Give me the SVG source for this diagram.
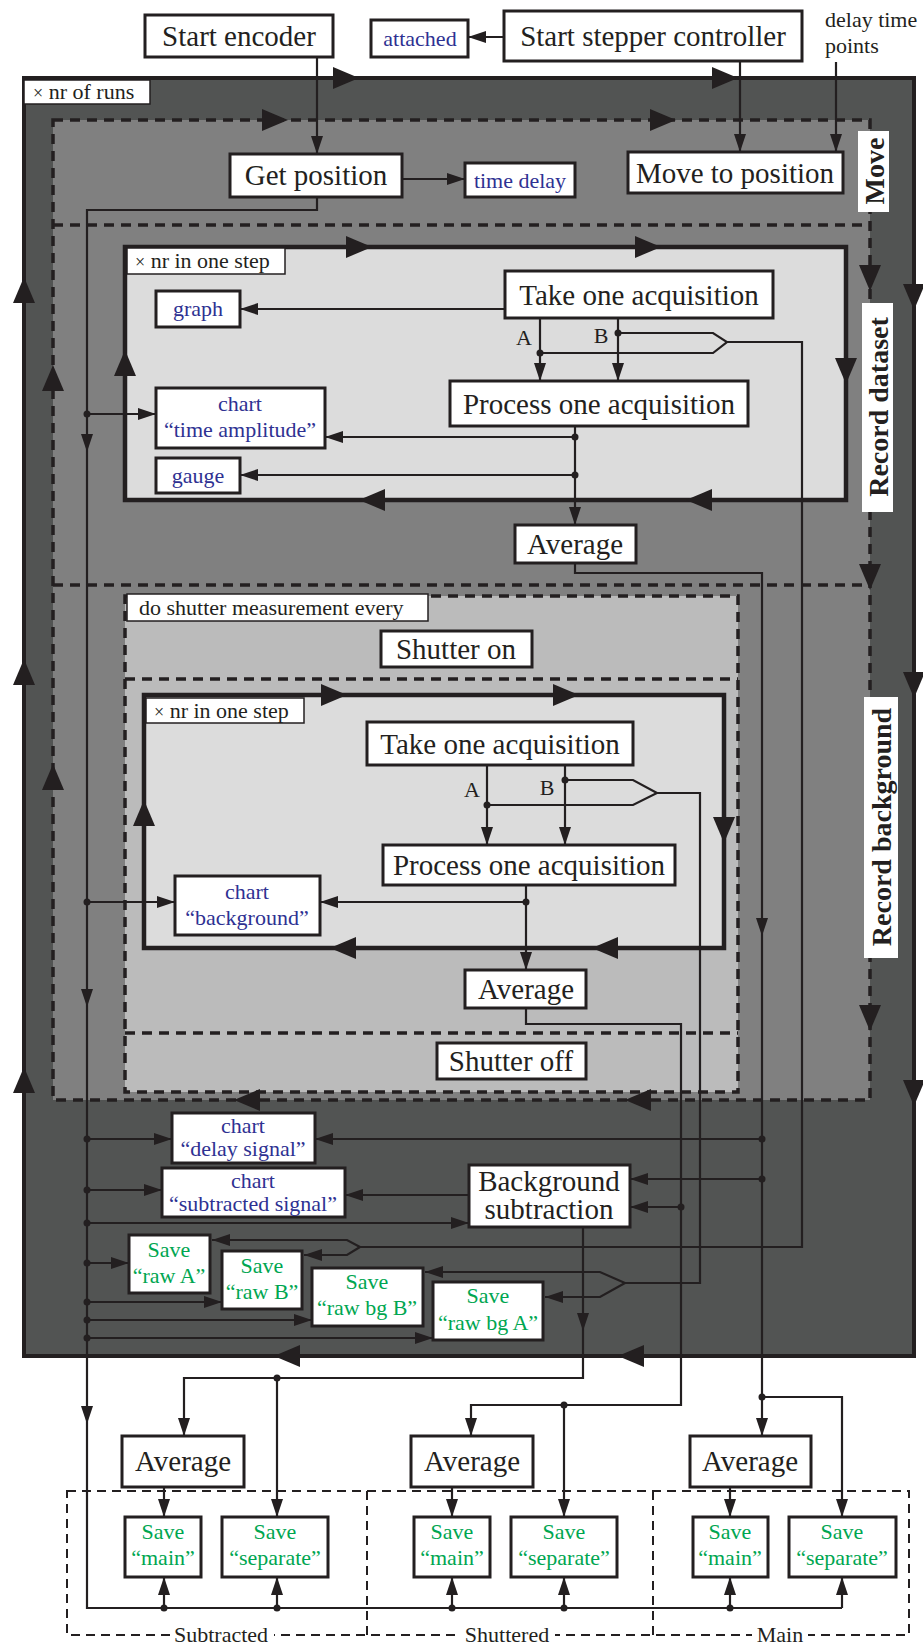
<svg xmlns="http://www.w3.org/2000/svg" xmlns:xlink="http://www.w3.org/1999/xlink" width="923" height="1646" viewBox="0 0 923 1646">
<style>
.box{fill:#fff;stroke:#231f20;stroke-width:3}
.lbl{fill:#fff;stroke:#231f20;stroke-width:1.5}
.t{font-family:"Liberation Serif","Times New Roman",serif;font-size:29px;fill:#231f20;text-anchor:middle}
.s{font-family:"Liberation Serif","Times New Roman",serif;font-size:22px;fill:#231f20}
.b{font-family:"Liberation Serif","Times New Roman",serif;font-size:22px;fill:#2e3192;text-anchor:middle}
.g{font-family:"Liberation Serif","Times New Roman",serif;font-size:22px;fill:#00a651;text-anchor:middle}
.v{font-family:"Liberation Serif","Times New Roman",serif;font-size:28px;font-weight:bold;fill:#231f20;text-anchor:middle;dominant-baseline:central}
.ln{fill:none;stroke:#231f20;stroke-width:2.2}
.ar{marker-end:url(#ah)}
.dash{stroke:#231f20;stroke-width:3.5;stroke-dasharray:10 7}
.thin{fill:none;stroke:#231f20;stroke-width:2;stroke-dasharray:9 6}
.loop{fill:#dcdcdc;stroke:#231f20;stroke-width:4.5}
.dot{fill:#231f20}
</style>
<defs>
<marker id="ah" viewBox="0 0 18 12" refX="18" refY="6" markerWidth="18" markerHeight="12" markerUnits="userSpaceOnUse" orient="auto"><path d="M0,0 L18,6 L0,12 z" fill="#231f20"/></marker>
<path id="big" d="M-13,-11 L13,0 L-13,11 z" fill="#231f20"/>
<path id="sm" d="M-9,-6 L9,0 L-9,6 z" fill="#231f20"/>
</defs>
<rect width="923" height="1646" fill="#fff"/>

<g id="regions">
<rect x="24" y="78" width="890" height="1278" fill="#525453" stroke="#231f20" stroke-width="4"/>
<rect x="53" y="120" width="817" height="980" fill="#808080" class="dash"/>
<line x1="53" y1="225" x2="870" y2="225" class="dash"/>
<line x1="53" y1="585" x2="870" y2="585" class="dash"/>
<rect x="125" y="247" width="721" height="253" class="loop"/>
<rect x="125" y="596" width="613" height="496" fill="#bbbbbb" class="dash"/>
<line x1="125" y1="679" x2="738" y2="679" class="dash"/>
<line x1="125" y1="1033" x2="738" y2="1033" class="dash"/>
<rect x="144" y="695" width="580" height="253" class="loop"/>
<rect x="67" y="1491" width="842" height="144" class="thin"/>
<line x1="367" y1="1491" x2="367" y2="1635" class="thin"/>
<line x1="653" y1="1491" x2="653" y2="1635" class="thin"/>
<rect x="170" y="1624" width="104" height="22" fill="#fff"/>
<rect x="459" y="1624" width="96" height="22" fill="#fff"/>
<rect x="752" y="1624" width="56" height="22" fill="#fff"/>
<text class="s" x="221" y="1642" text-anchor="middle">Subtracted</text>
<text class="s" x="507" y="1642" text-anchor="middle">Shuttered</text>
<text class="s" x="780" y="1642" text-anchor="middle">Main</text>
</g>

<g id="loop-arrows">
<use href="#big" transform="translate(346,78)"/>
<use href="#big" transform="translate(725,78)"/>
<use href="#big" transform="translate(24,290) rotate(-90)"/>
<use href="#big" transform="translate(24,672) rotate(-90)"/>
<use href="#big" transform="translate(24,1080) rotate(-90)"/>
<use href="#big" transform="translate(914,297) rotate(90)"/>
<use href="#big" transform="translate(914,685) rotate(90)"/>
<use href="#big" transform="translate(914,1093) rotate(90)"/>
<use href="#big" transform="translate(287,1356) rotate(180)"/>
<use href="#big" transform="translate(631,1356) rotate(180)"/>
<use href="#big" transform="translate(275,120)"/>
<use href="#big" transform="translate(663,120)"/>
<use href="#big" transform="translate(870,278) rotate(90)"/>
<use href="#big" transform="translate(870,577) rotate(90)"/>
<use href="#big" transform="translate(870,1018) rotate(90)"/>
<use href="#big" transform="translate(53,378) rotate(-90)"/>
<use href="#big" transform="translate(53,777) rotate(-90)"/>
<use href="#big" transform="translate(247,1100) rotate(180)"/>
<use href="#big" transform="translate(638,1100) rotate(180)"/>
<use href="#big" transform="translate(359,247)"/>
<use href="#big" transform="translate(648,247)"/>
<use href="#big" transform="translate(846,371) rotate(90)"/>
<use href="#big" transform="translate(372,500) rotate(180)"/>
<use href="#big" transform="translate(699,500) rotate(180)"/>
<use href="#big" transform="translate(125,363) rotate(-90)"/>
<use href="#big" transform="translate(334,695)"/>
<use href="#big" transform="translate(566,695)"/>
<use href="#big" transform="translate(724,830) rotate(90)"/>
<use href="#big" transform="translate(343,948) rotate(180)"/>
<use href="#big" transform="translate(605,948) rotate(180)"/>
<use href="#big" transform="translate(144,813) rotate(-90)"/>
</g>

<g id="labels">
<rect x="24" y="80" width="126" height="24" class="lbl"/>
<text class="s" x="33" y="99"><tspan font-size="18">×</tspan> nr of runs</text>
<rect x="127" y="248" width="158" height="26" class="lbl"/>
<text class="s" x="135" y="268"><tspan font-size="18">×</tspan> nr in one step</text>
<rect x="127" y="594" width="301" height="27" class="lbl"/>
<text class="s" x="139" y="615">do shutter measurement every</text>
<rect x="146" y="698" width="158" height="25" class="lbl"/>
<text class="s" x="154" y="718"><tspan font-size="18">×</tspan> nr in one step</text>
<rect x="858" y="131" width="31" height="81" fill="#fff"/>
<text class="v" transform="translate(874,171) rotate(-90)">Move</text>
<rect x="862" y="303" width="31" height="209" fill="#fff"/>
<text class="v" transform="translate(878,407) rotate(-90)">Record dataset</text>
<rect x="864" y="697" width="34" height="261" fill="#fff"/>
<text class="v" transform="translate(881,827) rotate(-90)">Record background</text>
<text class="s" x="825" y="27">delay time</text>
<text class="s" x="825" y="53">points</text>
<text class="s" x="524" y="345" text-anchor="middle" font-size="24">A</text>
<text class="s" x="601" y="343" text-anchor="middle" font-size="24">B</text>
<text class="s" x="472" y="797" text-anchor="middle" font-size="24">A</text>
<text class="s" x="547" y="795" text-anchor="middle" font-size="24">B</text>
</g>

<g id="connectors">
<path class="ln ar" d="M317,57 V154"/>
<path class="ln ar" d="M740,61 V152"/>
<path class="ln ar" d="M836,62 V152"/>
<path class="ln ar" d="M504,37 H468"/>
<path class="ln ar" d="M402,179 H465"/>
<path class="ln" d="M317,197 V210 H87 V1608 H842"/>
<path class="ln ar" d="M842,1608 V1577"/>
<path class="ln ar" d="M164,1608 V1577"/>
<path class="ln ar" d="M277,1608 V1577"/>
<path class="ln ar" d="M452,1608 V1577"/>
<path class="ln ar" d="M564,1608 V1577"/>
<path class="ln ar" d="M730,1608 V1577"/>
<use href="#sm" transform="translate(87,443) rotate(90)"/>
<use href="#sm" transform="translate(87,998) rotate(90)"/>
<use href="#sm" transform="translate(87,1415) rotate(90)"/>
<path class="ln ar" d="M505,309 H240"/>
<path class="ln ar" d="M540,318 V381"/>
<path class="ln ar" d="M618,318 V381"/>
<path class="ln" d="M618,333 H713 L727,342 L713,353 H540"/>
<path class="ln" d="M727,342 H802 V1247 H360"/>
<path class="ln ar" d="M360,1247 L347,1240 H212"/>
<path class="ln ar" d="M360,1247 L347,1255 H304"/>
<path class="ln ar" d="M575,426 V525"/>
<path class="ln ar" d="M575,437 H325"/>
<path class="ln ar" d="M575,475 H240"/>
<path class="ln ar" d="M87,414 H156"/>
<path class="ln ar" d="M575,563 V573 H762 V1436"/>
<use href="#sm" transform="translate(762,927) rotate(90)"/>
<path class="ln ar" d="M487,765 V845"/>
<path class="ln ar" d="M565,765 V845"/>
<path class="ln" d="M565,780 H633 L657,793 L633,805 H487"/>
<path class="ln" d="M657,793 H700 V1283 H625"/>
<path class="ln ar" d="M625,1283 L600,1272 H425"/>
<path class="ln ar" d="M625,1283 L600,1297 H545"/>
<path class="ln ar" d="M526,885 V970"/>
<path class="ln ar" d="M526,902 H320"/>
<path class="ln ar" d="M87,902 H175"/>
<path class="ln ar" d="M526,1008 V1024 H681 V1405 H471 V1436"/>
<path class="ln ar" d="M564,1405 V1517"/>
<path class="ln ar" d="M762,1139 H315"/>
<path class="ln ar" d="M87,1139 H172"/>
<path class="ln ar" d="M762,1179 H630"/>
<path class="ln ar" d="M681,1207 H630"/>
<path class="ln ar" d="M469,1195 H345"/>
<path class="ln ar" d="M87,1190 H162"/>
<path class="ln ar" d="M87,1223 H469"/>
<path class="ln ar" d="M583,1227 V1378 H184 V1436"/>
<use href="#sm" transform="translate(583,1322) rotate(90)"/>
<path class="ln ar" d="M277,1378 V1517"/>
<path class="ln ar" d="M762,1397 H842 V1517"/>
<path class="ln ar" d="M87,1263 H129"/>
<path class="ln ar" d="M87,1302 H222"/>
<path class="ln ar" d="M87,1320 H312"/>
<path class="ln ar" d="M87,1338 H433"/>
<path class="ln ar" d="M164,1487 V1517"/>
<path class="ln ar" d="M452,1487 V1517"/>
<path class="ln ar" d="M730,1487 V1517"/>
<g class="dot">
<circle cx="540" cy="353" r="3.5"/><circle cx="618" cy="333" r="3.5"/>
<circle cx="575" cy="437" r="3.5"/><circle cx="575" cy="475" r="3.5"/>
<circle cx="87" cy="414" r="3.5"/><circle cx="487" cy="805" r="3.5"/>
<circle cx="565" cy="780" r="3.5"/><circle cx="526" cy="902" r="3.5"/>
<circle cx="87" cy="902" r="3.5"/><circle cx="87" cy="1139" r="3.5"/>
<circle cx="762" cy="1139" r="3.5"/><circle cx="762" cy="1179" r="3.5"/>
<circle cx="681" cy="1207" r="3.5"/><circle cx="87" cy="1190" r="3.5"/>
<circle cx="87" cy="1223" r="3.5"/><circle cx="87" cy="1263" r="3.5"/>
<circle cx="87" cy="1302" r="3.5"/><circle cx="87" cy="1320" r="3.5"/>
<circle cx="87" cy="1338" r="3.5"/><circle cx="277" cy="1378" r="3.5"/>
<circle cx="564" cy="1405" r="3.5"/><circle cx="762" cy="1397" r="3.5"/>
<circle cx="164" cy="1608" r="3.5"/><circle cx="277" cy="1608" r="3.5"/>
<circle cx="452" cy="1608" r="3.5"/><circle cx="564" cy="1608" r="3.5"/>
<circle cx="730" cy="1608" r="3.5"/>
</g>
</g>

<g id="start-encoder"><rect x="145" y="15" width="188" height="42" class="box"/><text class="t" x="239" y="46">Start encoder</text></g>
<g id="attached"><rect x="371" y="20" width="97" height="37" class="box"/><text class="b" x="420" y="46">attached</text></g>
<g id="start-stepper"><rect x="504" y="11" width="298" height="50" class="box"/><text class="t" x="653" y="46">Start stepper controller</text></g>
<g id="get-position"><rect x="230" y="154" width="172" height="43" class="box"/><text class="t" x="316" y="185">Get position</text></g>
<g id="time-delay"><rect x="465" y="163" width="110" height="34" class="box"/><text class="b" x="520" y="188">time delay</text></g>
<g id="move-to-position"><rect x="628" y="152" width="215" height="41" class="box"/><text class="t" x="735" y="183">Move to position</text></g>

<g id="take1"><rect x="505" y="271" width="268" height="47" class="box"/><text class="t" x="639" y="305">Take one acquisition</text></g>
<g id="graph"><rect x="156" y="291" width="84" height="36" class="box"/><text class="b" x="198" y="316">graph</text></g>
<g id="process1"><rect x="450" y="381" width="298" height="45" class="box"/><text class="t" x="599" y="414">Process one acquisition</text></g>
<g id="chart-time-amplitude"><rect x="156" y="388" width="169" height="60" class="box"/><text class="b" x="240" y="411">chart</text><text class="b" x="240" y="437">“time amplitude”</text></g>
<g id="gauge"><rect x="156" y="458" width="84" height="35" class="box"/><text class="b" x="198" y="483">gauge</text></g>
<g id="average1"><rect x="515" y="525" width="121" height="38" class="box"/><text class="t" x="575" y="554">Average</text></g>

<g id="shutter-on"><rect x="381" y="631" width="151" height="36" class="box"/><text class="t" x="456" y="659">Shutter on</text></g>
<g id="take2"><rect x="367" y="722" width="266" height="43" class="box"/><text class="t" x="500" y="754">Take one acquisition</text></g>
<g id="process2"><rect x="383" y="845" width="292" height="40" class="box"/><text class="t" x="529" y="875">Process one acquisition</text></g>
<g id="chart-background"><rect x="175" y="876" width="145" height="59" class="box"/><text class="b" x="247" y="899">chart</text><text class="b" x="247" y="925">“background”</text></g>
<g id="average2"><rect x="465" y="970" width="121" height="38" class="box"/><text class="t" x="526" y="999">Average</text></g>
<g id="shutter-off"><rect x="437" y="1043" width="149" height="36" class="box"/><text class="t" x="511" y="1071">Shutter off</text></g>

<g id="chart-delay-signal"><rect x="172" y="1113" width="143" height="50" class="box"/><text class="b" x="243" y="1133">chart</text><text class="b" x="243" y="1156">“delay signal”</text></g>
<g id="chart-subtracted-signal"><rect x="162" y="1168" width="183" height="49" class="box"/><text class="b" x="253" y="1188">chart</text><text class="b" x="253" y="1211">“subtracted signal”</text></g>
<g id="background-subtraction"><rect x="469" y="1165" width="161" height="62" class="box"/><text class="t" x="549" y="1191" font-size="27">Background</text><text class="t" x="549" y="1219" font-size="27">subtraction</text></g>
<g id="save-raw-a"><rect x="129" y="1235" width="81" height="58" class="box"/><text class="g" x="169" y="1257">Save</text><text class="g" x="169" y="1283">“raw A”</text></g>
<g id="save-raw-b"><rect x="222" y="1251" width="80" height="58" class="box"/><text class="g" x="262" y="1273">Save</text><text class="g" x="262" y="1299">“raw B”</text></g>
<g id="save-raw-bg-b"><rect x="312" y="1268" width="111" height="58" class="box"/><text class="g" x="367" y="1289">Save</text><text class="g" x="367" y="1315">“raw bg B”</text></g>
<g id="save-raw-bg-a"><rect x="433" y="1282" width="110" height="58" class="box"/><text class="g" x="488" y="1303">Save</text><text class="g" x="488" y="1330">“raw bg A”</text></g>

<g id="average-subtracted"><rect x="122" y="1436" width="122" height="51" class="box"/><text class="t" x="183" y="1471">Average</text></g>
<g id="average-shuttered"><rect x="411" y="1436" width="122" height="51" class="box"/><text class="t" x="472" y="1471">Average</text></g>
<g id="average-main"><rect x="690" y="1436" width="121" height="51" class="box"/><text class="t" x="750" y="1471">Average</text></g>
<g id="save-sub-main"><rect x="125" y="1517" width="76" height="60" class="box"/><text class="g" x="163" y="1539">Save</text><text class="g" x="163" y="1565">“main”</text></g>
<g id="save-sub-separate"><rect x="222" y="1517" width="106" height="60" class="box"/><text class="g" x="275" y="1539">Save</text><text class="g" x="275" y="1565">“separate”</text></g>
<g id="save-shut-main"><rect x="414" y="1517" width="76" height="60" class="box"/><text class="g" x="452" y="1539">Save</text><text class="g" x="452" y="1565">“main”</text></g>
<g id="save-shut-separate"><rect x="511" y="1517" width="106" height="60" class="box"/><text class="g" x="564" y="1539">Save</text><text class="g" x="564" y="1565">“separate”</text></g>
<g id="save-main-main"><rect x="693" y="1517" width="75" height="60" class="box"/><text class="g" x="730" y="1539">Save</text><text class="g" x="730" y="1565">“main”</text></g>
<g id="save-main-separate"><rect x="789" y="1517" width="107" height="60" class="box"/><text class="g" x="842" y="1539">Save</text><text class="g" x="842" y="1565">“separate”</text></g>
</svg>
